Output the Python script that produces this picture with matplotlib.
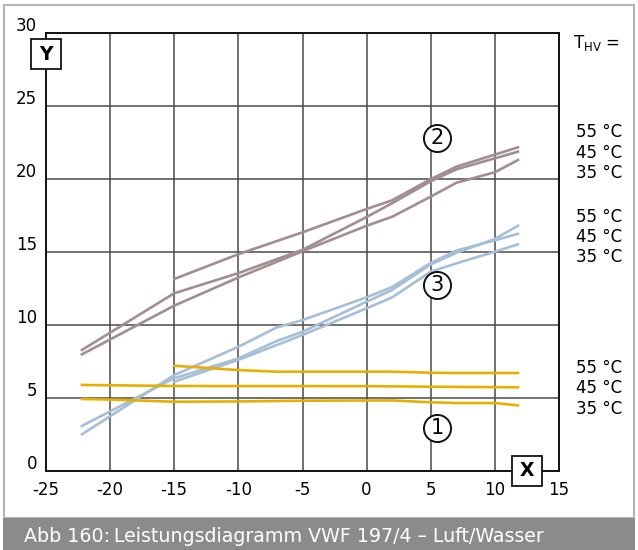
import matplotlib
matplotlib.use("Agg")
import matplotlib.pyplot as plt
from matplotlib.patches import Rectangle

plt.rcParams['font.family'] = ['DejaVu Sans']

# ---- data -------------------------------------------------------------
x_ticks = [-25, -20, -15, -10, -5, 0, 5, 10, 15]
y_ticks = [0, 5, 10, 15, 20, 25, 30]

# curve 2: heating output at flow temperature 55 / 45 / 35 °C
heat_55_x = [-15, -10, -5, 0, 2, 5, 7, 11.8]
heat_55_y = [13.15, 14.85, 16.35, 17.95, 18.55, 20.0, 20.85, 22.18]
heat_45_x = [-22.2, -15, -10, -5, 0, 2, 5, 7, 11.8]
heat_45_y = [8.28, 12.17, 13.55, 15.15, 17.4, 18.35, 19.85, 20.67, 21.88]
heat_35_x = [-22.2, -15, -10, -5, 0, 2, 5, 7, 10, 11.8]
heat_35_y = [7.98, 11.32, 13.25, 15.05, 16.8, 17.42, 18.8, 19.75, 20.47, 21.31]

# curve 3
c3_a_x = [-22.2, -15, -10, -7, -5, 0, 2, 5, 7, 10, 11.8]
c3_a_y = [2.49, 6.56, 8.5, 9.83, 10.33, 11.89, 12.6, 14.25, 15.1, 15.8, 16.25]
c3_b_x = [-22.2, -15, -10, -7, -5, 0, 2, 5, 7, 10, 11.8]
c3_b_y = [3.07, 6.34, 7.7, 8.9, 9.53, 11.59, 12.4, 14.15, 14.95, 15.9, 16.8]
c3_c_x = [-15, -10, -7, -5, 0, 2, 5, 7, 10, 11.8]
c3_c_y = [6.1, 7.6, 8.62, 9.31, 11.14, 11.89, 13.65, 14.22, 15.02, 15.53]

# curve 1: electrical power consumption
pow_55_x = [-15, -10, -7, 2, 5, 7, 11.8]
pow_55_y = [7.2, 6.9, 6.79, 6.79, 6.72, 6.7, 6.7]
pow_45_x = [-22.2, -15, 0, 5, 11.8]
pow_45_y = [5.88, 5.81, 5.8, 5.76, 5.72]
pow_35_x = [-22.2, -20, -15, -10, -5, 2, 5, 7, 10, 11.8]
pow_35_y = [4.92, 4.88, 4.73, 4.75, 4.8, 4.82, 4.69, 4.64, 4.64, 4.48]

temp_labels = ["55 °C", "45 °C", "35 °C"]
caption = "Abb 160:\u2009Leistungsdiagramm VWF 197/4 \u2013 Luft/Wasser"

BROWN = "#a28e8e"
BLUE = "#a6bfd6"
YELLOW = "#e5b000"

# ---- figure ------------------------------------------------------------
W, H = 638, 550
fig = plt.figure(figsize=(W / 100, H / 100), dpi=100)


def fx(px):
    return px / W


def fy(py):
    return 1 - py / H


# outer frame and caption bar
fig.patches.append(Rectangle((fx(4), fy(518)), fx(630), 513 / H,
                             transform=fig.transFigure, fill=False,
                             ec="#b4b4b4", lw=1.5))
fig.patches.append(Rectangle((fx(3), 0), fx(632), 32 / H,
                             transform=fig.transFigure, fc="#8b8b8b",
                             ec="none"))
fig.text(fx(24), fy(536), caption, color="white", fontsize=13.7,
         va="center", ha="left")

L, R, T, B = 46, 559, 33.3, 470.7
ax = fig.add_axes([fx(L), fy(B), (R - L) / W, (B - T) / H])
ax.set_xlim(x_ticks[0], x_ticks[-1])
ax.set_ylim(y_ticks[0], y_ticks[-1])
ax.set_xticks(x_ticks)
ax.set_yticks(y_ticks)
ax.tick_params(length=0, labelbottom=False, labelleft=False)
ax.grid(True, color="#4a4a4a", lw=1.1)
ax.set_axisbelow(True)
for s in ax.spines.values():
    s.set_color("#111111")
    s.set_linewidth(1.4)

for xs, ys in [(heat_55_x, heat_55_y), (heat_45_x, heat_45_y),
               (heat_35_x, heat_35_y)]:
    ax.plot(xs, ys, color=BROWN, lw=1.9, solid_joinstyle="round")
for xs, ys in [(c3_a_x, c3_a_y), (c3_b_x, c3_b_y), (c3_c_x, c3_c_y)]:
    ax.plot(xs, ys, color=BLUE, lw=1.9, solid_joinstyle="round")
for xs, ys in [(pow_55_x, pow_55_y), (pow_45_x, pow_45_y),
               (pow_35_x, pow_35_y)]:
    ax.plot(xs, ys, color=YELLOW, lw=1.9, solid_joinstyle="round")

# tick labels
for v in y_ticks:
    ax.annotate(str(v), (x_ticks[0], v), xytext=(-9, 2),
                textcoords="offset pixels", ha="right", va="baseline",
                fontsize=12, annotation_clip=False)
for v in x_ticks:
    ax.annotate(str(v), (v, y_ticks[0]), xytext=(0, -24),
                textcoords="offset pixels", ha="center", va="baseline",
                fontsize=12, annotation_clip=False)

# axis name boxes
for (bx, by, name) in [(-25, 28.55, "Y"), (12.53, 0, "X")]:
    ax.plot([bx], [by], marker="s", ms=21, mfc="white", mec="#111111",
            mew=1.3, clip_on=False, zorder=10)
    ax.text(bx, by, name, ha="center", va="center", fontsize=13.5,
            fontweight="bold", zorder=11)

# circled curve numbers
for (cx, cy, n) in [(5.46, 22.8, "2"), (5.5, 12.74, "3"), (5.5, 2.9, "1")]:
    ax.plot([cx], [cy], marker="o", ms=19.5, mfc="white", mec="#111111",
            mew=1.4, zorder=10)
    ax.text(cx, cy, n, ha="center", va="center", fontsize=15, zorder=11)

# flow temperature labels
fig.text(fx(573), fy(43), r"T$_{\mathregular{HV}}$ =", fontsize=12,
         va="center", ha="left")
for ys in ([131.7, 152.7, 172.7], [216.7, 237.3, 257.3],
           [368.3, 388.3, 409.3]):
    for yy, lab in zip(ys, temp_labels):
        fig.text(fx(576), fy(yy), lab, fontsize=12, va="center", ha="left")

fig.savefig("out.png", dpi=100)
